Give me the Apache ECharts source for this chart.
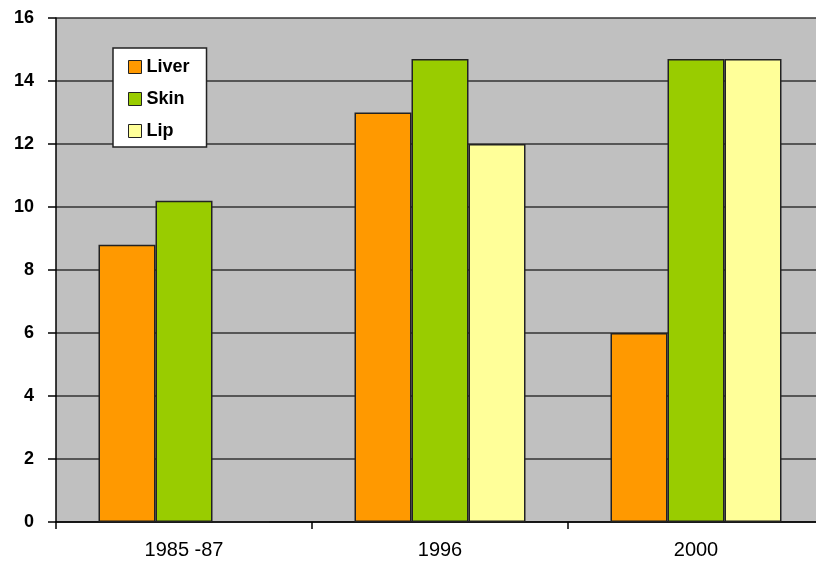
<!DOCTYPE html>
<html><head><meta charset="utf-8">
<script src="https://cdn.jsdelivr.net/npm/echarts@6/dist/echarts.min.js"></script>
<style>html,body{margin:0;padding:0;background:#fff;overflow:hidden;width:816px;height:567px}#c{width:824px;height:567px}</style>
</head><body><div id="c"></div>
<script>
const categories = ['1985 -87', '1996', '2000'];
const liver = [8.8, 13.0, 6.0];
const skin = [10.2, 14.7, 14.7];
const lip = [0, 12.0, 14.7];
const yTicks = {min: 0, max: 16, interval: 2};

const chart = echarts.init(document.getElementById('c'));
const barBorder = {borderColor: '#222', borderWidth: 1.5};
chart.setOption({
  animation: false,
  backgroundColor: '#fff',
  grid: {left: 56, right: 0, top: 18, bottom: 45, show: true, backgroundColor: '#c0c0c0', borderWidth: 0},
  legend: {
    left: 113, top: 48, orient: 'vertical', icon: 'rect', itemWidth: 13, itemHeight: 13, itemGap: 14, itemTextGap: 6,
    padding: [10, 17, 7, 15], backgroundColor: '#fff', borderColor: '#222', borderWidth: 1.5,
    textStyle: {fontFamily: 'Liberation Sans, Arial', fontWeight: 'bold', fontSize: 18, color: '#000', lineHeight: 18},
    itemStyle: {borderColor: '#222', borderWidth: 1}
  },
  xAxis: {
    type: 'category', data: categories,
    axisLine: {lineStyle: {color: '#000', width: 1.5}},
    axisTick: {show: true, length: 7, lineStyle: {color: '#000', width: 1.5}},
    axisLabel: {fontFamily: 'Liberation Sans, Arial', fontSize: 20, color: '#000', margin: 18}
  },
  yAxis: {
    type: 'value', min: yTicks.min, max: yTicks.max, interval: yTicks.interval,
    axisLine: {show: true, lineStyle: {color: '#000', width: 1.5}},
    axisTick: {show: true, length: 8, lineStyle: {color: '#000', width: 1.5}},
    axisLabel: {fontFamily: 'Liberation Sans, Arial', fontSize: 18, fontWeight: 'bold', color: '#000', margin: 22},
    splitLine: {show: true, lineStyle: {color: '#333', width: 1.5}}
  },
  series: [
    {name: 'Liver', type: 'bar', data: liver, barWidth: 57, barGap: '0%', itemStyle: Object.assign({color: '#ff9900'}, barBorder)},
    {name: 'Skin', type: 'bar', data: skin, barWidth: 57, barGap: '0%', itemStyle: Object.assign({color: '#99cc00'}, barBorder)},
    {name: 'Lip', type: 'bar', data: lip, barWidth: 57, barGap: '0%', itemStyle: Object.assign({color: '#ffff99'}, barBorder)}
  ]
});
</script></body></html>
